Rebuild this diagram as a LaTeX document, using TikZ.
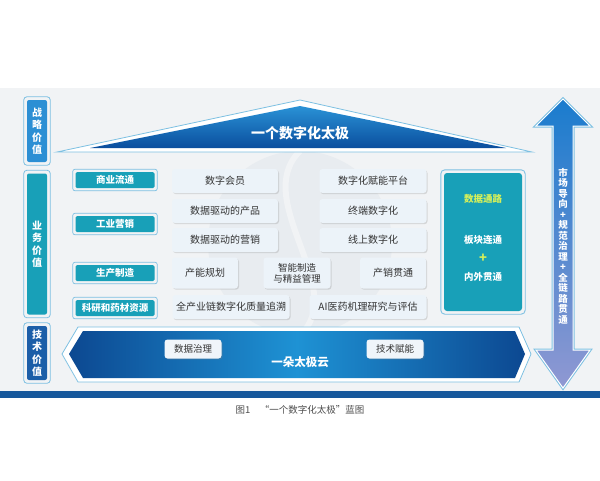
\documentclass[tikz,border=0pt]{standalone}
\usepackage{fontspec}
\setmainfont{Noto Sans CJK SC}
\usepackage{tikz}
\definecolor{panel}{RGB}{241,243,245}
\definecolor{swirl}{RGB}{232,236,240}
\definecolor{rim}{RGB}{125,192,226}
\definecolor{tabteal}{RGB}{24,160,184}
\definecolor{stratblue}{RGB}{44,143,212}
\definecolor{techblue}{RGB}{27,94,168}
\definecolor{cellfill}{RGB}{236,243,249}
\definecolor{celltext}{RGB}{50,50,50}
\definecolor{roofhi}{RGB}{42,146,214}
\definecolor{roofdk}{RGB}{10,78,158}
\definecolor{bandedge}{RGB}{12,72,145}
\definecolor{bandmid}{RGB}{30,146,212}
\definecolor{arrowtop}{RGB}{26,124,206}
\definecolor{arrowbot}{RGB}{144,152,210}
\definecolor{barblue}{RGB}{22,88,156}
\definecolor{lime}{RGB}{214,240,90}
\usetikzlibrary{fit,shadows}
\tikzset{%
  value/.style={rounded corners=2pt, text=white, align=center, inner sep=0pt,
    minimum width=20pt, font=\fontsize{10}{12.5}\selectfont\bfseries},% left value column
  valueframe/.style={draw=rim, line width=0.8pt, rounded corners=3pt, inner sep=3pt},
  tab/.style={fill=tabteal, rounded corners=1.5pt, text=white, inner sep=0pt,
    minimum width=79pt, minimum height=16pt, font=\fontsize{9.5}{11}\selectfont\bfseries},% row label
  tabframe/.style={draw=rim, line width=0.7pt, rounded corners=2pt, inner sep=2.5pt},
  cell/.style={fill=cellfill, rounded corners=3pt, text=celltext, align=center,
    inner sep=0pt, minimum height=24pt, font=\fontsize{10}{12}\selectfont,
    drop shadow={shadow xshift=1pt, shadow yshift=-1.2pt, opacity=0.25, fill=gray}},% content box
  chip/.style={cell, fill=cellfill!80!white, minimum width=57pt, minimum height=19pt,
    font=\fontsize{9.5}{11}\selectfont},% box on the cloud band
  channel/.style={font=\fontsize{9.5}{11}\selectfont\bfseries, text=white}
}

\begin{document}
\begin{tikzpicture}[x=1pt, y=-1pt]
\useasboundingbox (0,0) rectangle (600,480);
\fill[white] (0,0) rectangle (600,480);
\fill[panel] (0,88) rectangle (600,391);
\fill[barblue] (0,391) rectangle (600,398);

% faint taiji swirl
\fill[swirl] (300,243) circle (92);
\draw[panel, line width=6pt] (300,151) .. controls (250,200) and (350,290) .. (300,335);

% roof
\draw[rim, line width=0.8pt, fill=white] (57,152) -- (300,100) -- (532,152) -- cycle;
\shade[top color=roofhi, bottom color=roofdk] (90,148) -- (300,106) -- (506,148) -- cycle;
\node[text=white, font=\fontsize{14}{16}\selectfont\bfseries] (roof) at (300,133) {一个数字化太极};

% value column
\node[value, fill=stratblue, minimum height=62pt] (v1) at (37,131) {战\\略\\价\\值};
\node[value, fill=tabteal, minimum height=141pt] (v2) at (37,244) {业\\务\\价\\值};
\node[value, fill=techblue, minimum height=54pt] (v3) at (37,353) {技\\术\\价\\值};
\foreach \v in {v1,v2,v3}
  \node[valueframe, fit=(\v)] (\v f) {};

% row labels
\node[tab] (t1) at (115,180) {商业流通};
\node[tab] (t2) at (115,224) {工业营销};
\node[tab] (t3) at (115,273) {生产制造};
\node[tab] (t4) at (115,308) {科研和药材资源};
\foreach \t in {t1,t2,t3,t4}
  \node[tabframe, fit=(\t)] (\t f) {};

% content boxes
\node[cell, minimum width=106pt] (c1) at (225,181) {数字会员};
\node[cell, minimum width=106pt] (c2) at (225,211) {数据驱动的产品};
\node[cell, minimum width=106pt] (c3) at (225,240) {数据驱动的营销};
\node[cell, minimum width=107pt] (c9) at (373,181) {数字化赋能平台};
\node[cell, minimum width=107pt] (c10) at (373,211) {终端数字化};
\node[cell, minimum width=107pt] (c11) at (373,240) {线上数字化};
\node[cell, minimum width=66pt, minimum height=31pt] (c4) at (205,273) {产能规划};
\node[cell, minimum width=67pt, minimum height=31pt, font=\fontsize{9.5}{11}\selectfont] (c5) at (297,273) {智能制造\\与精益管理};
\node[cell, minimum width=66pt, minimum height=31pt] (c6) at (393,273) {产销贯通};
\node[cell, minimum width=117pt] (c7) at (231,307) {全产业链数字化质量追溯};
\node[cell, minimum width=117pt] (c8) at (368,307) {AI医药机理研究与评估};

% data channel
\node[fill=tabteal, rounded corners=3pt, minimum width=78pt, minimum height=138pt] (dch) at (483,242) {};
\node[draw=rim, line width=0.9pt, rounded corners=4pt, inner sep=3pt, fit=(dch)] (dchf) {};
\node[channel, text=lime] (d1) at (483,199) {数据通路};
\node[channel] (d2) at (483,240) {板块连通};
\node[channel, text=lime, font=\fontsize{13}{13}\selectfont\bfseries] (d3) at (483,258) {+};
\node[channel] (d4) at (483,277) {内外贯通};

% cloud band
\draw[rim, line width=0.8pt, fill=white] (62,354) -- (78,327) -- (519,327) -- (531,354)
  -- (519,382) -- (78,382) -- cycle;
\shade[left color=bandedge, right color=bandedge, middle color=bandmid]
  (69,354) -- (83,331) -- (515,331) -- (525,354) -- (515,378) -- (83,378) -- cycle;
\node[chip] (g1) at (193,349) {数据治理};
\node[chip] (g2) at (395,349) {技术赋能};
\node[text=white, font=\fontsize{11.5}{13}\selectfont\bfseries] (cloud) at (300,362) {一朵太极云};

% right double arrow
\path[preaction={draw=rim, line width=3pt}, top color=arrowtop, bottom color=arrowbot,
  draw=white, line width=1pt]
  (563,99) -- (590,126) -- (573,126) -- (573,350) -- (590,350) -- (563,388)
  -- (536,350) -- (553,350) -- (553,126) -- (536,126) -- cycle;
\node[text=white, align=center, font=\fontsize{9.5}{10.5}\selectfont\bfseries] (arr) at (563,246)
  {市\\场\\导\\向\\+\\规\\范\\治\\理\\+\\全\\链\\路\\贯\\通};

% caption
\node[text=black!70, font=\fontsize{9.5}{11}\selectfont] (cap) at (300,410) {图1\quad “一个数字化太极”蓝图};
\end{tikzpicture}
\end{document}
